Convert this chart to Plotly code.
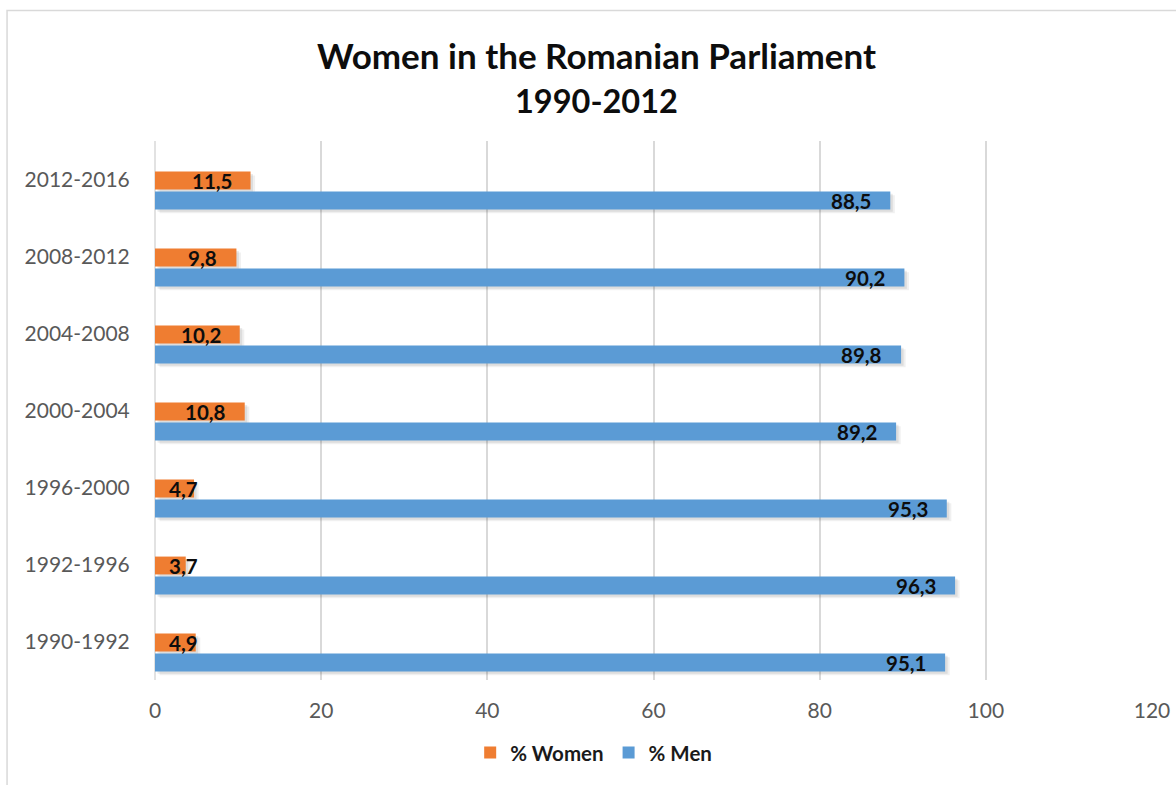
import plotly.graph_objects as go

categories = ["1990-1992", "1992-1996", "1996-2000", "2000-2004", "2004-2008", "2008-2012", "2012-2016"]
women = [4.9, 3.7, 4.7, 10.8, 10.2, 9.8, 11.5]
men = [95.1, 96.3, 95.3, 89.2, 89.8, 90.2, 88.5]
x_ticks = [0, 20, 40, 60, 80, 100, 120]

ORANGE = "#EF7D31"
BLUE = "#5B9BD5"
FONT = "Lato"

def fmt(v):
    return f"{v:.1f}".replace(".", ",")

fig = go.Figure()
# soft drop shadows (two faint layers to imitate blur)
for vals, off, w in ((women, -0.129, 0.232), (men, -0.388, 0.233)):
    for shift, b, a in ((0.03, 0.3, 0.08), (0.05, 0.55, 0.06)):
        fig.add_trace(go.Bar(
            y=categories, x=vals, orientation="h", base=b,
            marker=dict(color=f"rgba(0,0,0,{a})", line=dict(width=0)),
            offset=off - shift, width=w, hoverinfo="skip", showlegend=False,
        ))
fig.add_trace(go.Bar(
    name="<b>% Women</b>", y=categories, x=women, orientation="h",
    marker=dict(color=ORANGE, line=dict(width=0)),
    offset=-0.129, width=0.232, hoverinfo="skip",
))
fig.add_trace(go.Bar(
    name="<b>% Men</b>", y=categories, x=men, orientation="h",
    marker=dict(color=BLUE, line=dict(width=0)),
    offset=-0.388, width=0.233, hoverinfo="skip",
))

annotations = []
for series, yshift in ((women, -1), (men, -21)):
    for cat, v in zip(categories, series):
        if v < 6:
            annotations.append(dict(x=0, y=cat, xref="x", yref="y", text=f"<b>{fmt(v)}</b>",
                                    showarrow=False, xanchor="left", xshift=12, yshift=yshift,
                                    font=dict(family=FONT, size=20.5, color="#0D0D0D")))
        else:
            annotations.append(dict(x=v, y=cat, xref="x", yref="y", text=f"<b>{fmt(v)}</b>",
                                    showarrow=False, xanchor="right", xshift=-17, yshift=yshift,
                                    font=dict(family=FONT, size=20.5, color="#0D0D0D")))

annotations.append(dict(x=0.4433, y=1.159, xref="paper", yref="paper", xanchor="center", yanchor="middle",
                        text="<b>Women in the Romanian Parliament</b>", showarrow=False,
                        font=dict(family=FONT, size=35, color="#0D0D0D")))
annotations.append(dict(x=0.4433, y=1.0758, xref="paper", yref="paper", xanchor="center", yanchor="middle",
                        text="<b>1990-2012</b>", showarrow=False,
                        font=dict(family=FONT, size=32.5, color="#0D0D0D")))

fig.update_layout(
    width=1176, height=785,
    margin=dict(l=155, r=24, t=141, b=103),
    paper_bgcolor="white", plot_bgcolor="white",
    barmode="overlay",
    font=dict(family=FONT, color="#595959"),
    xaxis=dict(range=[0, 120], tickvals=x_ticks, ticktext=[str(t) for t in x_ticks],
               showgrid=True, gridcolor="#D9D9D9", gridwidth=1.5,
               zeroline=False, showline=False, automargin=False,
               ticks="outside", ticklen=12, tickcolor="rgba(0,0,0,0)",
               tickfont=dict(family=FONT, size=21, color="#595959")),
    yaxis=dict(type="category", categoryorder="array", categoryarray=categories,
               range=[-0.5, 6.5], showgrid=False, zeroline=False, showline=False, automargin=False,
               ticks="outside", ticklen=20, tickcolor="rgba(0,0,0,0)",
               tickfont=dict(family=FONT, size=21, color="#595959")),
    legend=dict(orientation="h", x=0.44, xanchor="center", y=-0.135, yanchor="middle",
                font=dict(family=FONT, size=20.5, color="#1A1A1A"),
                bgcolor="rgba(0,0,0,0)", traceorder="normal"),
    annotations=annotations,
    shapes=[
        dict(type="line", xref="paper", yref="paper", x0=0, x1=0, y0=0, y1=1,
             line=dict(color="#D9D9D9", width=1.5), layer="below"),
        dict(type="rect", xref="paper", yref="paper", x0=-0.1484, x1=1.2, y0=-0.3, y1=1.2421,
             line=dict(color="#D9D9D9", width=1.5), layer="below"),
    ],
    showlegend=True,
)

fig.write_html("out.html")
